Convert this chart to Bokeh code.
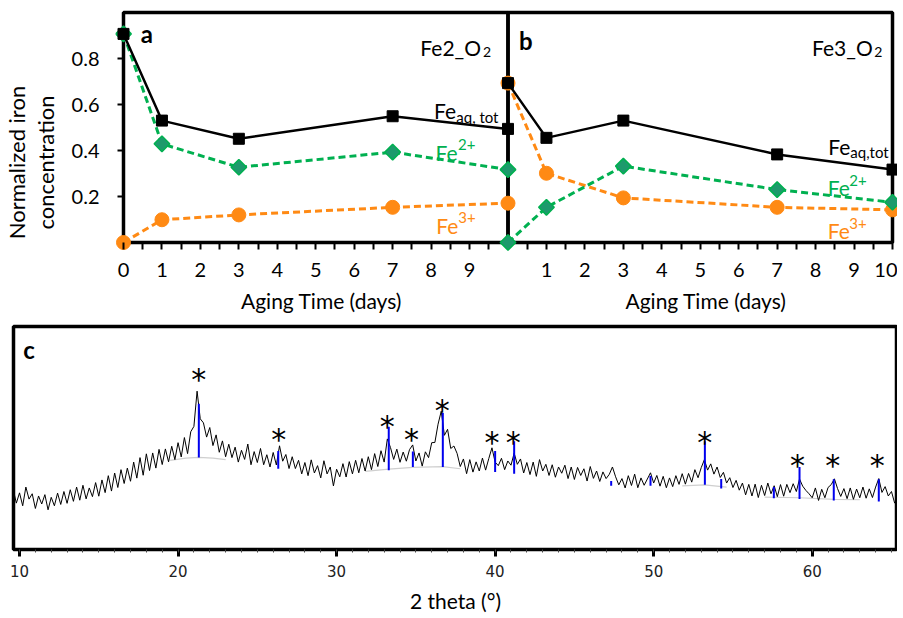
import numpy as np
from bokeh.plotting import figure
from bokeh.models import Range1d, LinearAxis, FixedTicker, BoxAnnotation, Label
from bokeh.core.properties import value
from bokeh.embed import file_html
from bokeh.resources import INLINE

# ---------------- data: panels a and b ----------------
days = [0, 1, 3, 7, 10]
a_fe_tot = [0.907, 0.530, 0.451, 0.549, 0.494]
a_fe2 = [0.907, 0.429, 0.327, 0.393, 0.317]
a_fe3 = [0.0, 0.099, 0.120, 0.153, 0.171]
b_fe_tot = [0.693, 0.455, 0.530, 0.383, 0.317]
b_fe2 = [0.0, 0.153, 0.332, 0.230, 0.175]
b_fe3 = [0.693, 0.301, 0.194, 0.153, 0.142]
y_ticks = [0.2, 0.4, 0.6, 0.8]
a_ticks = [0, 1, 2, 3, 4, 5, 6, 7, 8, 9]
b_ticks = [1, 2, 3, 4, 5, 6, 7, 8, 9, 10]
B_SHIFT = 10  # panel b is drawn to the right of panel a (its day 0 = panel a's day 10)

# ---------------- data: panel c (XRD) ----------------
xrd_start = 9.6
xrd_step = 0.2
xrd_y = [
    27.0, 20.8, 25.4, 19.6, 28.0, 22.6, 25.0, 18.4, 24.0, 20.4,
    24.6, 17.8, 23.4, 19.6, 25.3, 20.2, 26.0, 20.7, 26.8, 21.6,
    28.0, 22.1, 28.8, 22.7, 27.6, 23.7, 30.0, 23.9, 31.2, 25.5,
    33.1, 26.2, 34.3, 27.8, 35.8, 29.6, 36.5, 30.6, 39.2, 32.0,
    41.2, 33.3, 42.9, 35.4, 43.3, 36.5, 44.9, 38.1, 45.1, 39.3,
    46.3, 40.3, 47.9, 41.5, 50.2, 43.0, 52.8, 55.2, 71.0, 58.6,
    56.8, 50.4, 54.7, 46.6, 51.4, 43.6, 48.7, 41.6, 47.2, 41.2,
    45.9, 39.2, 44.5, 40.4, 47.3, 38.0, 43.9, 39.0, 45.3, 38.0,
    42.5, 37.0, 43.5, 37.9, 46.5, 39.6, 42.6, 36.3, 41.6, 36.3,
    40.0, 33.9, 39.0, 33.1, 40.2, 34.3, 37.6, 32.1, 39.8, 33.9,
    37.0, 28.5, 36.0, 32.6, 38.5, 32.5, 39.4, 33.9, 40.0, 34.4,
    40.8, 35.2, 41.6, 35.8, 43.0, 37.2, 44.3, 39.2, 49.6, 45.7,
    40.4, 45.0, 39.1, 43.7, 39.6, 44.8, 46.9, 39.7, 43.3, 37.4,
    43.8, 41.2, 47.9, 48.0, 56.2, 62.0, 51.2, 53.9, 45.3, 46.4,
    43.1, 37.2, 40.6, 34.0, 40.3, 34.7, 39.3, 35.2, 41.0, 35.6,
    40.8, 45.6, 39.2, 37.6, 40.9, 35.8, 39.7, 37.8, 43.2, 38.2,
    40.6, 34.3, 39.0, 33.6, 39.2, 32.8, 40.3, 35.2, 38.2, 33.2,
    38.0, 32.4, 37.0, 34.2, 37.8, 31.8, 37.0, 31.4, 36.8, 33.2,
    36.2, 30.7, 37.2, 31.9, 35.2, 30.5, 34.8, 31.8, 33.7, 37.0,
    32.6, 29.0, 31.8, 27.6, 33.1, 28.7, 33.8, 27.7, 32.1, 28.8,
    31.6, 34.4, 29.8, 33.2, 28.4, 32.8, 27.7, 32.1, 28.2, 33.1,
    29.2, 34.0, 29.3, 34.1, 30.2, 35.8, 32.2, 36.7, 40.3, 35.6,
    38.4, 33.8, 37.0, 32.3, 34.6, 29.8, 32.2, 27.8, 31.0, 26.6,
    29.8, 24.5, 29.2, 24.0, 29.3, 23.3, 28.8, 24.2, 29.8, 25.0,
    28.6, 23.7, 29.1, 23.9, 29.2, 25.5, 29.5, 26.0, 31.6, 28.4,
    26.5, 25.0, 23.2, 27.6, 22.0, 27.0, 23.2, 27.8, 29.1, 31.7,
    27.3, 23.8, 27.3, 22.8, 27.6, 22.5, 27.1, 23.2, 28.0, 23.0,
    27.2, 23.3, 28.0, 31.8, 25.6, 28.2, 24.0, 26.0, 20.8, 23.1,
]
xrd_x = [round(xrd_start + xrd_step * i, 2) for i in range(len(xrd_y))]

bg_xs = [[19.5, 20.5, 21.3, 22.2, 23.0],
         [31.8, 33.3, 34.8, 36.7, 37.8],
         [51.8, 53.2, 54.6],
         [57.0, 59.2, 61.4, 63.0]]
bg_ys = [[40.0, 41.0, 41.3, 41.0, 40.3],
         [35.0, 36.0, 36.8, 37.2, 36.2],
         [28.5, 29.0, 28.0],
         [23.5, 23.2, 22.5, 22.3]]

ref_x = [21.31, 26.32, 33.29, 34.81, 36.70, 40.0, 41.2, 47.32, 49.80, 53.23, 54.26, 57.58, 59.2, 61.36, 64.2]
ref_y0 = [41.3, 36.2, 35.5, 37.0, 37.0, 34.8, 34.0, 28.6, 28.6, 29.0, 27.3, 23.0, 22.7, 22.0, 21.5]
ref_y1 = [65.4, 44.2, 55.0, 44.0, 61.2, 44.2, 48.5, 30.7, 33.0, 48.5, 31.6, 28.0, 37.0, 31.5, 31.5]

star_x = [21.31, 26.35, 33.19, 34.72, 36.66, 39.81, 41.14, 53.22, 59.07, 61.30, 64.10]
star_y = [79.8, 53.1, 58.6, 53.1, 65.8, 51.4, 51.4, 51.4, 41.3, 41.3, 41.3]
c_ticks = [10, 20, 30, 40, 50, 60]
c_minor = list(range(10, 66))

# ---------------- styles ----------------
FONT = "Lato"
GREEN = "#00b050"
GREEN_FILL = "#1d9a6c"
ORANGE = "#ff8a14"


def lab(p, x, y, text, size, color="black", bold=False, align="left", baseline="alphabetic"):
    p.add_layout(Label(x=x, y=y, text=text, text_font=FONT, text_font_size=size,
                       text_color=color, text_align=align, text_baseline=baseline,
                       text_font_style="bold" if bold else "normal"))


def draw_series(p, fe_tot, fe2, fe3, rname="default"):
    p.line(days, fe3, line_color=ORANGE, line_width=3, line_dash="7 4", x_range_name=rname)
    p.scatter(days, fe3, marker="circle", size=14, fill_color=ORANGE, line_color=ORANGE,
              x_range_name=rname)
    p.line(days, fe2, line_color=GREEN, line_width=3, line_dash="7 4", x_range_name=rname)
    p.scatter(days, fe2, marker="square", angle=np.pi / 4, size=11,
              fill_color=GREEN_FILL, line_color=GREEN, line_width=1.5, x_range_name=rname)
    p.line(days, fe_tot, line_color="black", line_width=2.5, x_range_name=rname)
    p.scatter(days, fe_tot, marker="square", size=11, fill_color="black", line_color="black",
              x_range_name=rname)


# ---------------- panels a + b (one canvas) ----------------
# the frame reaches down to the axis titles so that they can be drawn inside it
XS, XE = -0.208, 20.13
pt = figure(width=897, height=318, x_range=Range1d(XS, XE), y_range=Range1d(-0.3217, 1.0174),
            x_axis_type=None, y_axis_type=None,
            toolbar_location=None, output_backend="svg",
            min_border_left=114, min_border_right=0, min_border_top=8, min_border_bottom=2)
pt.outline_line_color = None
pt.xgrid.visible = False
pt.ygrid.visible = False
pt.extra_x_ranges = {"b": Range1d(XS - B_SHIFT, XE - B_SHIFT)}

for left in (0, B_SHIFT):
    pt.add_layout(BoxAnnotation(left=left, right=left + 10, bottom=0, top=1.0,
                                fill_color=None, line_color="black", line_alpha=1.0,
                                line_width=3.5, level="underlay"))

ax_x = LinearAxis(ticker=FixedTicker(ticks=a_ticks + [t + B_SHIFT for t in b_ticks],
                                     minor_ticks=[t + 0.5 for t in range(20)]),
                  major_label_overrides={t + B_SHIFT: str(t) for t in b_ticks})
ax_x.axis_line_color = None
ax_x.major_tick_in = 74
ax_x.major_tick_out = -67
ax_x.minor_tick_in = 74
ax_x.minor_tick_out = -67
ax_x.major_tick_line_width = 2
ax_x.minor_tick_line_width = 2
ax_x.major_label_text_font = FONT
ax_x.major_label_text_font_size = "20px"
ax_x.major_label_text_color = "black"
ax_x.major_label_standoff = 13
pt.add_layout(ax_x, "below")

ay = LinearAxis(ticker=FixedTicker(ticks=y_ticks, minor_ticks=[]),
                axis_label="Normalized iron\nconcentration", bounds=(0.087, 1.0))
ay.axis_line_color = None
ay.major_tick_in = 8
ay.major_tick_out = -2
ay.minor_tick_in = 0
ay.minor_tick_out = 0
ay.major_tick_line_width = 2
ay.major_label_text_font = FONT
ay.major_label_text_font_size = "20px"
ay.major_label_text_color = "black"
ay.major_label_standoff = 16
ay.axis_label_text_font = FONT
ay.axis_label_text_font_size = "22px"
ay.axis_label_text_line_height = 1.05
ay.axis_label_text_font_style = "normal"
ay.axis_label_text_color = "black"
ay.axis_label_standoff = 10
pt.add_layout(ay, "left")

draw_series(pt, a_fe_tot, a_fe2, a_fe3)
draw_series(pt, b_fe_tot, b_fe2, b_fe3, "b")

lab(pt, 5.15, -0.252, "Aging Time (days)", "21px", align="center", baseline="middle")
lab(pt, 15.15, -0.252, "Aging Time (days)", "21px", align="center", baseline="middle")

lab(pt, 0.45, 0.907, "a", "24px", bold=True)
lab(pt, 7.72, 0.849, "Fe2_O", "21px")
lab(pt, 9.35, 0.827, "2", "14px")
lab(pt, 8.075, 0.574, "Fe", "21px")
lab(pt, 8.655, 0.545, "aq, tot", "15px")
lab(pt, 8.117, 0.393, "Fe", "21px", GREEN)
lab(pt, 8.699, 0.426, "2+", "15px", GREEN)
lab(pt, 8.135, 0.074, "Fe", "21px", ORANGE)
lab(pt, 8.707, 0.107, "3+", "15px", ORANGE)

lab(pt, 10.285, 0.878, "b", "24px", bold=True)
lab(pt, 17.908, 0.849, "Fe3_O", "21px")
lab(pt, 19.527, 0.827, "2", "14px")
lab(pt, 18.331, 0.419, "Fe", "21px")
lab(pt, 18.903, 0.393, "aq,tot", "15px")
lab(pt, 18.316, 0.240, "Fe", "21px", GREEN)
lab(pt, 18.877, 0.270, "2+", "15px", GREEN)
lab(pt, 18.316, 0.052, "Fe", "21px", ORANGE)
lab(pt, 18.877, 0.084, "3+", "15px", ORANGE)

# ---------------- panel c ----------------
pc = figure(width=897, height=297,
            x_range=Range1d(9.62, 65.38), y_range=Range1d(0, 100),
            x_axis_type=None, y_axis_type=None,
            toolbar_location=None, output_backend="svg",
            min_border_left=13, min_border_right=0, min_border_top=8, min_border_bottom=58)
pc.outline_line_color = "black"
pc.outline_line_width = 3.5
pc.xgrid.visible = False
pc.ygrid.visible = False

axc = LinearAxis(ticker=FixedTicker(ticks=c_ticks, minor_ticks=c_minor), axis_label="2 theta (°)")
axc.axis_line_color = "black"
axc.axis_line_width = 3
axc.major_tick_out = 7
axc.major_tick_in = 0
axc.major_tick_line_width = 3
axc.minor_tick_out = 3
axc.minor_tick_in = 0
axc.minor_tick_line_width = 1
axc.minor_tick_line_color = "#444444"
axc.major_label_text_font = "DejaVu Sans"
axc.major_label_text_font_size = "15px"
axc.major_label_text_color = "#222222"
axc.major_label_standoff = 8
axc.axis_label_text_font = FONT
axc.axis_label_text_font_size = "21px"
axc.axis_label_text_font_style = "normal"
axc.axis_label_text_color = "black"
axc.axis_label_standoff = 8
pc.add_layout(axc, "below")

pc.multi_line(bg_xs, bg_ys, line_color="#cfcfcf", line_width=1.2)
pc.line(xrd_x, xrd_y, line_color="black", line_width=1)
pc.segment(x0=ref_x, y0=ref_y0, x1=ref_x, y1=ref_y1, line_color="#0000ee", line_width=2)
pc.text(x=star_x, y=star_y, text=value("*"), text_font=value("DejaVu Sans"),
        text_font_size=value("30px"), text_align="center", text_baseline="middle",
        text_color="black", y_offset=8)
lab(pc, 10.23, 89.6, "c", "24px", bold=True)

open("out.html", "w").write(file_html([pt, pc], INLINE))
